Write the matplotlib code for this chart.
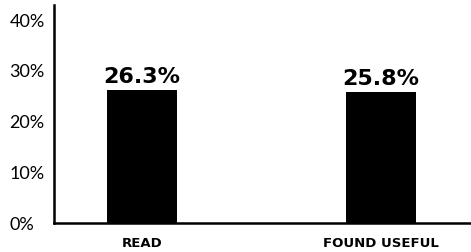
import numpy as np
import matplotlib.pyplot as plt

categories = ['READ', 'FOUND USEFUL']
values = [26.3, 25.8]
value_labels = ['26.3%', '25.8%']
yticks = [0, 10, 20, 30, 40]
ytick_labels = ['0%', '10%', '20%', '30%', '40%']

W, H = 471, 252
fig = plt.figure(figsize=(W / 100, H / 100), dpi=100)
ax = fig.add_axes([54 / W, 1 - 223 / H, 1 - 54 / W, 218 / H])

x = np.arange(len(categories))
ax.bar(x, values, width=0.29, color='black')

for xi, v, lab in zip(x, values, value_labels):
    ax.annotate(lab, (xi, v), xytext=(0, 2), textcoords='offset points',
                ha='center', va='bottom', fontsize=16, fontweight='bold',
                family='DejaVu Sans')

ax.set_xlim(-0.368, 1.377)
ax.set_ylim(0, 43)
ax.set_yticks(yticks)
ax.set_yticklabels(ytick_labels, fontsize=13, family='Lato')
for t in ax.get_yticklabels():
    t.set_horizontalalignment('left')
ax.tick_params(axis='y', length=0, pad=32)

ax.set_xticks(x)
ax.set_xticklabels(categories, fontsize=9.5, fontweight='bold',
                   family='Liberation Sans Narrow')
ax.tick_params(axis='x', length=0, pad=10)

for s in ['top', 'right']:
    ax.spines[s].set_visible(False)
ax.spines['left'].set_linewidth(1.8)
ax.spines['bottom'].set_linewidth(1.8)

fig.savefig('out.png', dpi=100)
